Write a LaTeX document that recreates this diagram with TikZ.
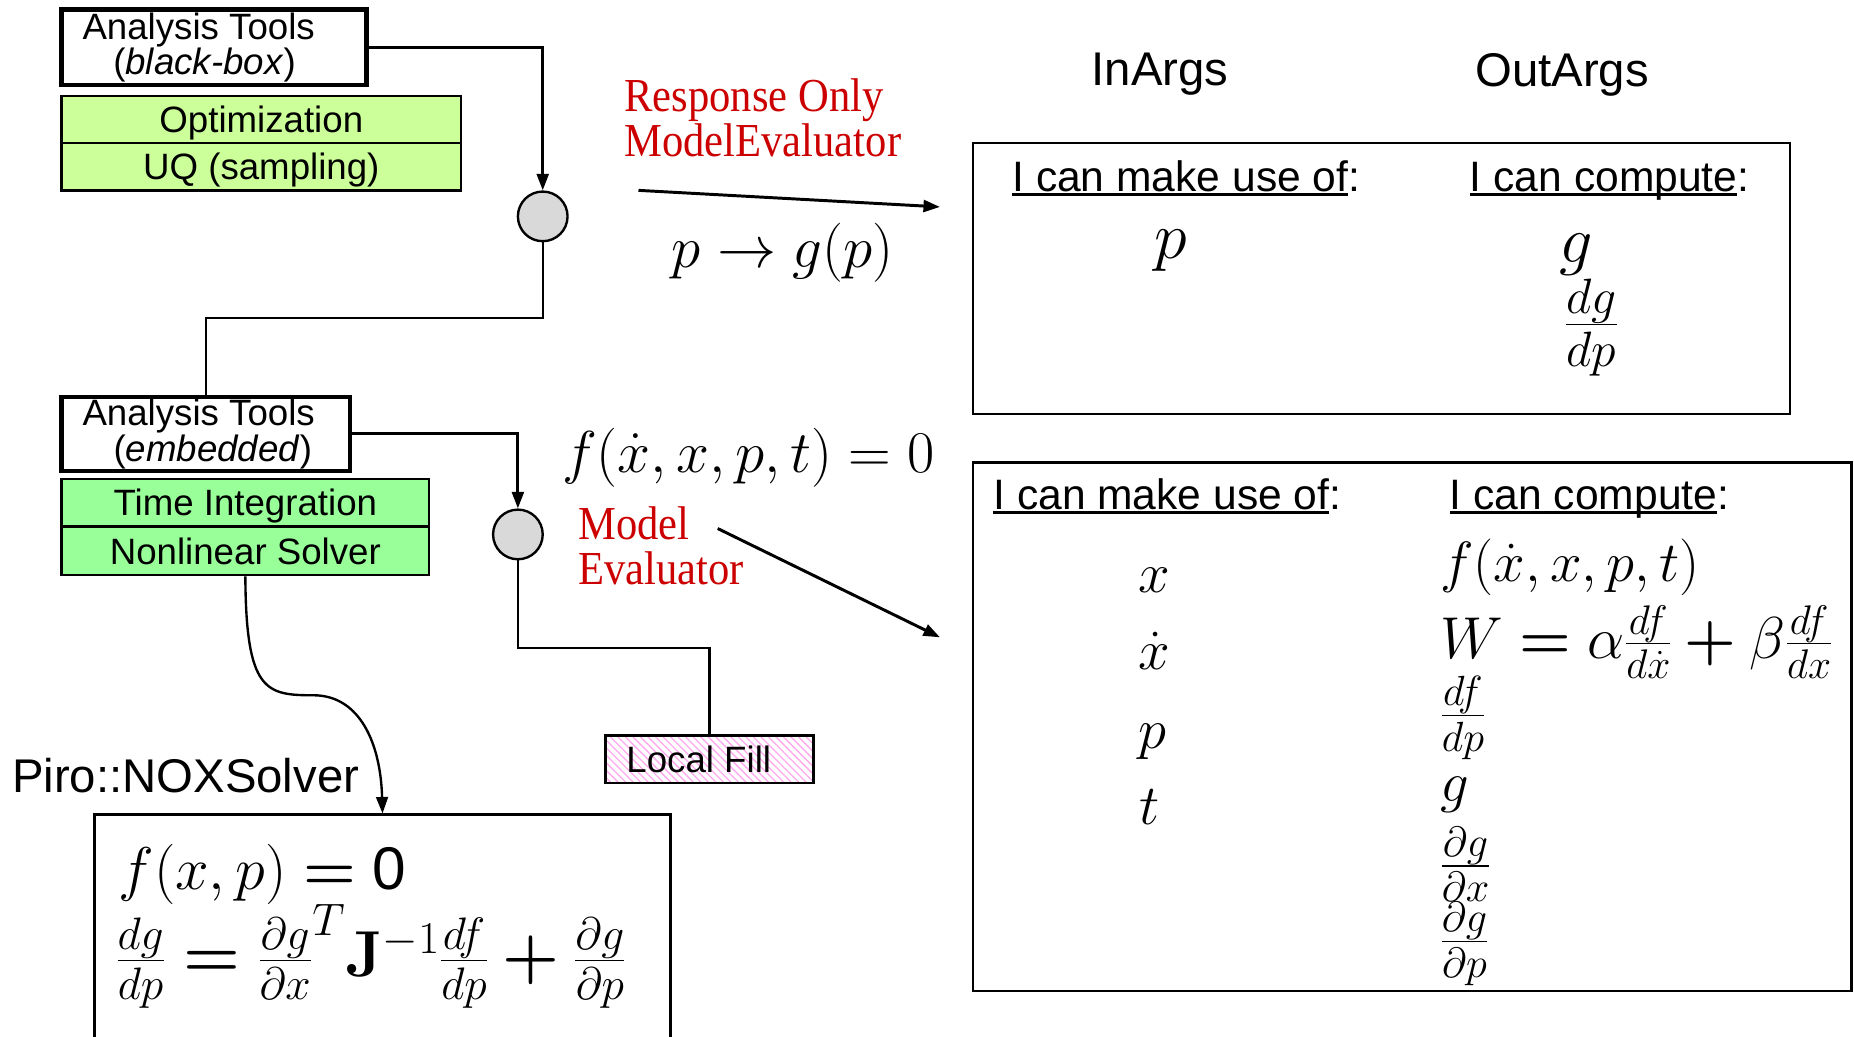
\RequirePackage{fix-cm}
\documentclass[tikz,border=0pt]{standalone}
\usepackage{amsmath}
\usepackage[no-math]{fontspec}
\setmainfont{Liberation Sans}
\newfontfamily\redserif[FakeStretch=0.9]{Liberation Serif}
\usetikzlibrary{arrows.meta,patterns.meta}
\definecolor{optgreen}{HTML}{CCFF99}
\definecolor{solvgreen}{HTML}{99FF99}
\definecolor{evalgray}{HTML}{D9D9D9}
\definecolor{fillpink}{HTML}{FFA8F0}
\definecolor{mered}{HTML}{CC0000}
% heading text underlined up to (not including) the colon
\newcommand\ulined[1]{\setbox0\hbox{#1}\rlap{\rule[-4pt]{\wd0}{2.8pt}}\box0}
% heavy relation and operator signs used in the formulas
\newcommand\seq{\mathrel{\boldsymbol{=}}}
\newcommand\splus{\mathbin{\boldsymbol{+}}}
\begin{document}
\begin{tikzpicture}[x=1pt,y=-1pt,
  toolbox/.style={draw, line width=3.5pt, inner sep=0pt, align=center, font=\fontsize{31}{30}\selectfont},
  layerbox/.style={draw, line width=2pt, inner sep=0pt, text height=22pt, text depth=0pt, font=\fontsize{31}{36}\selectfont},
  evalnode/.style={circle, draw, line width=2pt, fill=evalgray, minimum size=42pt, inner sep=0pt},
  conn/.style={line width=2pt},
  arr/.style={line width=2.5pt, -{Triangle[length=14pt,width=10pt]}},
  argbox/.style={draw, line width=2pt, inner sep=0pt},
  head/.style={inner sep=0pt, font=\fontsize{40}{48}\selectfont},
  colhead/.style={anchor=base west, inner sep=0pt, font=\fontsize{36}{43}\selectfont},
  redtxt/.style={text=mered, align=left, inner sep=0pt, font=\redserif\fontsize{40}{38}\selectfont},
  mathA/.style={inner sep=0pt, font=\fontsize{48}{58}\selectfont},
  mathB/.style={inner sep=0pt, font=\fontsize{50}{60}\selectfont},
  mathC/.style={inner sep=0pt, font=\fontsize{56}{67}\selectfont},
]
\useasboundingbox (0,0) rectangle (1568,877);
\clip (0,0) rectangle (1568,877);

% ---------------- left column: analysis tools ----------------
\node[toolbox, minimum width=258pt, minimum height=64pt] (bb) at (181,40)
  {\hspace*{-26pt}Analysis Tools\\\hspace*{-16pt}(\textit{black-box})};
\node[layerbox, fill=optgreen, minimum width=338pt, minimum height=40pt] (opt) at (221,101) {Optimization};
\node[layerbox, fill=optgreen, minimum width=338pt, minimum height=40pt] (uq) at (221,141) {UQ (sampling)};
\node[evalnode] (c1) at (459,183) {};

\node[toolbox, minimum width=244pt, minimum height=62pt] (emb) at (174,367)
  {\hspace*{-12pt}Analysis Tools\\\hspace*{12pt}(\textit{embedded})};
\node[layerbox, fill=solvgreen, minimum width=311pt, minimum height=40pt] (ti) at (207.5,425) {Time Integration};
\node[layerbox, fill=solvgreen, minimum width=311pt, minimum height=41pt] (nls) at (207.5,466) {Nonlinear Solver};
\node[evalnode] (c2) at (438,452) {};

\node[layerbox, minimum width=176pt, minimum height=40pt,
      pattern={Lines[angle=-45,distance=4.5pt,line width=1.1pt]}, pattern color=fillpink] (lf) at (600,642)
  {\hspace*{-18pt}Local Fill};

\node[head] (piro) at (157,656) {Piro::NOXSolver};
\node[argbox, minimum width=487pt, minimum height=220pt, anchor=north] (nox) at (323.5,688) {};
\node[inner sep=0pt, font=\fontsize{51}{60}\selectfont, anchor=base west] (nox1) at (100,752)
  {$f(x,p) \seq \text{0}$};
\node[inner sep=0pt, font=\fontsize{55}{66}\selectfont, anchor=base west] (nox2) at (98,826)
  {$\frac{dg}{dp} \seq \frac{\partial g}{\partial x}^{T}\mathbf{J}^{-1}\frac{df}{dp} \splus \frac{\partial g}{\partial p}$};

% connectors on the left
\draw[arr] (bb.east) -| (c1.north);
\draw[conn] (c1.south) -- ++(0,64) -| (emb.north);
\draw[arr] (emb.east) -| (c2.north);
\draw[conn] (c2.south) -- ++(0,74) -| (lf.north);
\draw[arr, line width=2pt] (nls.south) .. controls (208,585) and (225,588) .. (265,588)
                       .. controls (305,588) and (322,630) .. (nox.north);

% ---------------- right side: model evaluator arguments ----------------
\node[head] (inargs) at (981,63) {InArgs};
\node[head] (outargs) at (1321,63) {OutArgs};

\node[redtxt, anchor=west] (rome) at (528,100) {Response Only\\ModelEvaluator};
\coordinate (r1s) at (540,161);
\coordinate (r1e) at (795,175);
\draw[arr] (r1s) -- (r1e);
\node[mathB] (pg) at (662,214) {$p \rightarrow g(p)$};

\node[argbox, minimum width=691pt, minimum height=229pt] (rbox) at (1168.5,235.5) {};
\node[colhead] (rin) at (856,162) {\ulined{I can make use of}:};
\node[colhead] (rout) at (1243,162) {\ulined{I can compute}:};
\node[mathC] (rp) at (990,212) {$p$};
\node[mathC] (rg) at (1333,215) {$g$};
\node[inner sep=0pt, font=\fontsize{60}{70}\selectfont] (rdg) at (1346,277) {$\frac{dg}{dp}$};

\node[mathB] (feq) at (633,387) {$f(\dot{x},x,p,t) = 0$};
\node[redtxt, anchor=west] (me) at (489,462) {Model\\Evaluator};
\coordinate (r2s) at (607,447);
\coordinate (r2e) at (795,539);
\draw[arr] (r2s) -- (r2e);

\node[argbox, minimum width=743pt, minimum height=447pt] (mbox) at (1194.5,614.5) {};
\node[colhead] (min) at (840,431) {\ulined{I can make use of}:};
\node[colhead] (mout) at (1226,431) {\ulined{I can compute}:};

\node[mathA, anchor=base] (ix) at (976,501) {$x$};
\node[mathA, anchor=base] (ixd) at (976,566) {$\dot{x}$};
\node[mathA, anchor=base] (ip) at (975,633) {$p$};
\node[mathA, anchor=base] (it) at (972,697) {$t$};

\node[mathA, anchor=base west] (of) at (1218,492) {$f(\dot{x},x,p,t)$};
\node[inner sep=0pt, font=\fontsize{50}{60}\selectfont, anchor=base west] (ow) at (1218,557)
  {$W \seq \alpha\frac{df}{d\dot{x}} \splus \beta\frac{df}{dx}$};
\node[inner sep=0pt, font=\fontsize{51}{60}\selectfont, anchor=west] (odfdp) at (1218,607) {$\frac{df}{dp}$};
\node[mathA, anchor=west] (og) at (1218,672) {$g$};
\node[inner sep=0pt, font=\fontsize{51}{60}\selectfont, anchor=west] (odgdx) at (1218,731) {$\frac{\partial g}{\partial x}$};
\node[inner sep=0pt, font=\fontsize{51}{60}\selectfont, anchor=west] (odgdp) at (1218,798) {$\frac{\partial g}{\partial p}$};
\end{tikzpicture}
\end{document}
